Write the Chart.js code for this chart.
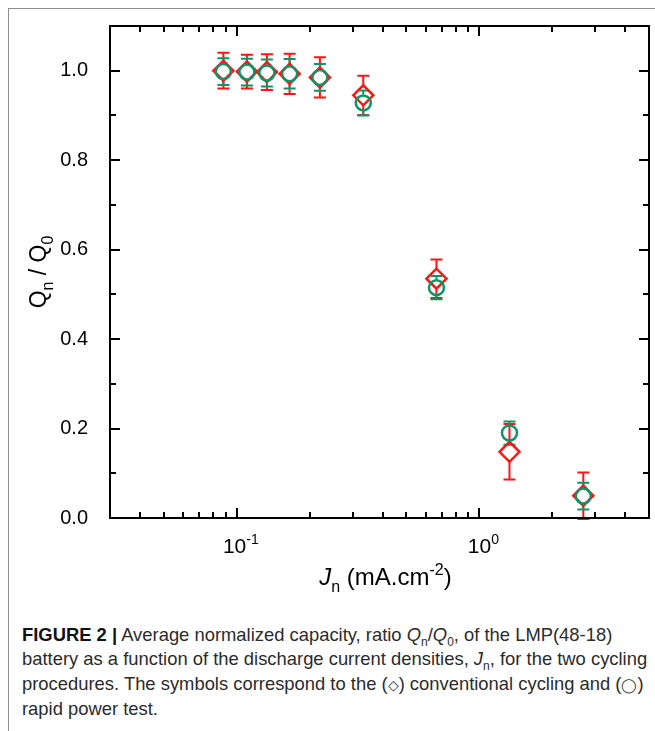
<!DOCTYPE html>
<html>
<head>
<meta charset="utf-8">
<script src="https://cdn.jsdelivr.net/npm/chart.js@4.4.1/dist/chart.umd.min.js"></script>
<style>
  html, body { margin: 0; padding: 0; background: #fff; overflow: hidden; width: 655px; height: 731px; }
  #frame { position: absolute; left: 8px; top: 8px; width: 720px; height: 800px;
           border-left: 1.5px solid #8e8e8e; border-top: 1.5px solid #8e8e8e; }
  #wrap { position: absolute; left: 0; top: 0; width: 655px; height: 600px; }
  #caption { position: absolute; left: 22px; top: 623px; font: 18.4px "Liberation Sans", Arial, sans-serif;
             line-height: 24.4px; color: #2b2b2b; white-space: nowrap; }
  #caption b { color: #111; }
  #caption sub { font-size: 12px; line-height: 0; }
  #caption .sym { font-size: 14px; }
</style>
</head>
<body>
<div id="frame"></div>
<div id="wrap"><canvas id="capChart" width="655" height="600"></canvas></div>
<div id="caption">
  <b>FIGURE 2 |</b> Average normalized capacity, ratio <i>Q</i><sub>n</sub>/<i>Q</i><sub>0</sub>, of the LMP(48-18)<br>
  battery as a function of the discharge current densities, <i>J</i><sub>n</sub>, for the two cycling<br>
  procedures. The symbols correspond to the (<span class="sym">&#9671;</span>) conventional cycling and (<span class="sym">&#9711;</span>)<br>
  rapid power test.
</div>
<script>
// discharge current densities (mA.cm-2)
const currentDensity = [0.088, 0.11, 0.133, 0.165, 0.22, 0.332, 0.665, 1.33, 2.68];
// conventional cycling (diamonds)
const conventional = [1.0, 0.998, 0.997, 0.993, 0.985, 0.945, 0.535, 0.148, 0.05];
const conventionalErr = [0.04, 0.038, 0.04, 0.045, 0.045, 0.044, 0.043, 0.062, 0.052];
// rapid power test (circles)
const rapid = [0.998, 0.997, 0.995, 0.993, 0.985, 0.928, 0.515, 0.19, 0.049];
const rapidErr = [0.03, 0.03, 0.03, 0.033, 0.03, 0.028, 0.026, 0.026, 0.03];
// axis ticks
const xTicks = [0.03, 0.04, 0.05, 0.06, 0.07, 0.08, 0.09, 0.1, 0.2, 0.3, 0.4, 0.5, 0.6, 0.7, 0.8, 0.9, 1, 2, 3, 4, 5];
const xMajor = [0.1, 1];
const xMajorLabels = [['10', '-1'], ['10', '0']];

const RED = '#ff1414';
const GREEN = '#0d9566';
const FONT = 'Arial, "Liberation Sans", sans-serif';

// draws a string made of pieces, some of them sub/superscript
function richText(ctx, parts, x, y, size) {
    const fontOf = p => (p.italic ? 'italic ' : '') + Math.round(p.sub || p.sup ? size * 0.68 : size) + 'px ' + FONT;
    let total = 0;
    parts.forEach(p => { ctx.font = fontOf(p); total += ctx.measureText(p.t).width; });
    let cx = x - total / 2;
    parts.forEach(p => {
        ctx.font = fontOf(p);
        let dy = 0;
        if (p.sub) dy = size * 0.3;
        if (p.sup) dy = -size * 0.42;
        ctx.fillText(p.t, cx, y + dy);
        cx += ctx.measureText(p.t).width;
    });
}

const errorBars = {
    id: 'errorBars',
    beforeDatasetsDraw(chart) {
        const { ctx, scales: { x, y } } = chart;
        const sets = [
            { vals: conventional, errs: conventionalErr, color: RED, r: 10 },
            { vals: rapid, errs: rapidErr, color: GREEN, r: 8.5 }
        ];
        ctx.save();
        ctx.lineWidth = 2;
        sets.forEach(s => {
            ctx.strokeStyle = s.color;
            currentDensity.forEach((j, i) => {
                const px = x.getPixelForValue(j);
                const py = y.getPixelForValue(s.vals[i]);
                const top = y.getPixelForValue(s.vals[i] + s.errs[i]);
                const bot = y.getPixelForValue(s.vals[i] - s.errs[i]);
                ctx.beginPath();
                if (top < py - s.r) { ctx.moveTo(px, py - s.r); ctx.lineTo(px, top); }
                if (bot > py + s.r) { ctx.moveTo(px, py + s.r); ctx.lineTo(px, bot); }
                ctx.moveTo(px - 6, top); ctx.lineTo(px + 6, top);
                ctx.moveTo(px - 6, bot); ctx.lineTo(px + 6, bot);
                ctx.stroke();
            });
        });
        ctx.restore();
    }
};

const frameAndTicks = {
    id: 'frameAndTicks',
    afterDraw(chart) {
        const { ctx, chartArea: a, scales: { x, y } } = chart;
        ctx.save();
        ctx.strokeStyle = '#000';
        ctx.lineWidth = 2;
        ctx.strokeRect(a.left, a.top, a.right - a.left, a.bottom - a.top);
        ctx.beginPath();
        xTicks.forEach(v => {
            if (v <= x.min || v >= x.max) return;
            const px = Math.round(x.getPixelForValue(v));
            const len = xMajor.includes(v) ? 10 : 6;
            ctx.moveTo(px, a.bottom); ctx.lineTo(px, a.bottom - len);
            ctx.moveTo(px, a.top); ctx.lineTo(px, a.top + len);
        });
        y.ticks.forEach(t => {
            if (t.value <= y.min + 1e-9 || t.value >= y.max - 1e-9) return;
            const py = Math.round(y.getPixelForValue(t.value));
            const len = Math.round(t.value * 10) % 2 === 0 ? 10 : 6;
            ctx.moveTo(a.left, py); ctx.lineTo(a.left + len, py);
            ctx.moveTo(a.right, py); ctx.lineTo(a.right - len, py);
        });
        ctx.stroke();

        // x tick labels with superscript
        ctx.fillStyle = '#000';
        ctx.textBaseline = 'alphabetic';
        ctx.textAlign = 'left';
        xMajor.forEach((v, i) => {
            const px = x.getPixelForValue(v);
            richText(ctx, [{ t: xMajorLabels[i][0] }, { t: xMajorLabels[i][1], sup: true }], px + 4, a.bottom + 35, 21);
        });

        // axis titles
        richText(ctx, [{ t: 'J', italic: true }, { t: 'n', sub: true }, { t: ' (mA.cm' }, { t: '-2', sup: true }, { t: ')' }],
            (a.left + a.right) / 2 + 6, a.bottom + 67, 24);
        ctx.translate(46, (a.top + a.bottom) / 2);
        ctx.rotate(-Math.PI / 2);
        richText(ctx, [{ t: 'Q' }, { t: 'n', sub: true }, { t: ' / Q' }, { t: '0', sub: true }], 0, 0, 23);
        ctx.restore();
    }
};

new Chart(document.getElementById('capChart').getContext('2d'), {
    type: 'scatter',
    data: {
        datasets: [
            {
                label: 'rapid power test',
                data: currentDensity.map((j, i) => ({ x: j, y: rapid[i] })),
                pointStyle: 'circle',
                pointRadius: 7.5,
                borderColor: GREEN,
                backgroundColor: 'rgba(0,0,0,0)',
                borderWidth: 2.5
            },
            {
                label: 'conventional cycling',
                data: currentDensity.map((j, i) => ({ x: j, y: conventional[i] })),
                pointStyle: 'rectRot',
                pointRadius: 10,
                borderColor: RED,
                backgroundColor: 'rgba(0,0,0,0)',
                borderWidth: 2.5
            }
        ]
    },
    options: {
        responsive: false,
        animation: false,
        events: [],
        layout: { autoPadding: false, padding: { top: 25, right: 6, left: 0, bottom: 0 } },
        plugins: { legend: { display: false }, tooltip: { enabled: false } },
        scales: {
            x: {
                type: 'logarithmic',
                min: 0.03,
                max: 5,
                afterBuildTicks: scale => { scale.ticks = xTicks.map(v => ({ value: v })); },
                afterFit: scale => { scale.height = 82; },
                grid: { display: false },
                border: { display: false },
                ticks: { display: false }
            },
            y: {
                min: 0,
                max: 1.1,
                afterFit: scale => { scale.width = 110; },
                grid: { display: false },
                border: { display: false },
                ticks: {
                    stepSize: 0.1,
                    padding: 14,
                    color: '#000',
                    font: { family: FONT, size: 20 },
                    callback: v => (Math.round(v * 10) % 2 === 0 ? v.toFixed(1) : '')
                }
            }
        }
    },
    plugins: [errorBars, frameAndTicks]
});
</script>
</body>
</html>
